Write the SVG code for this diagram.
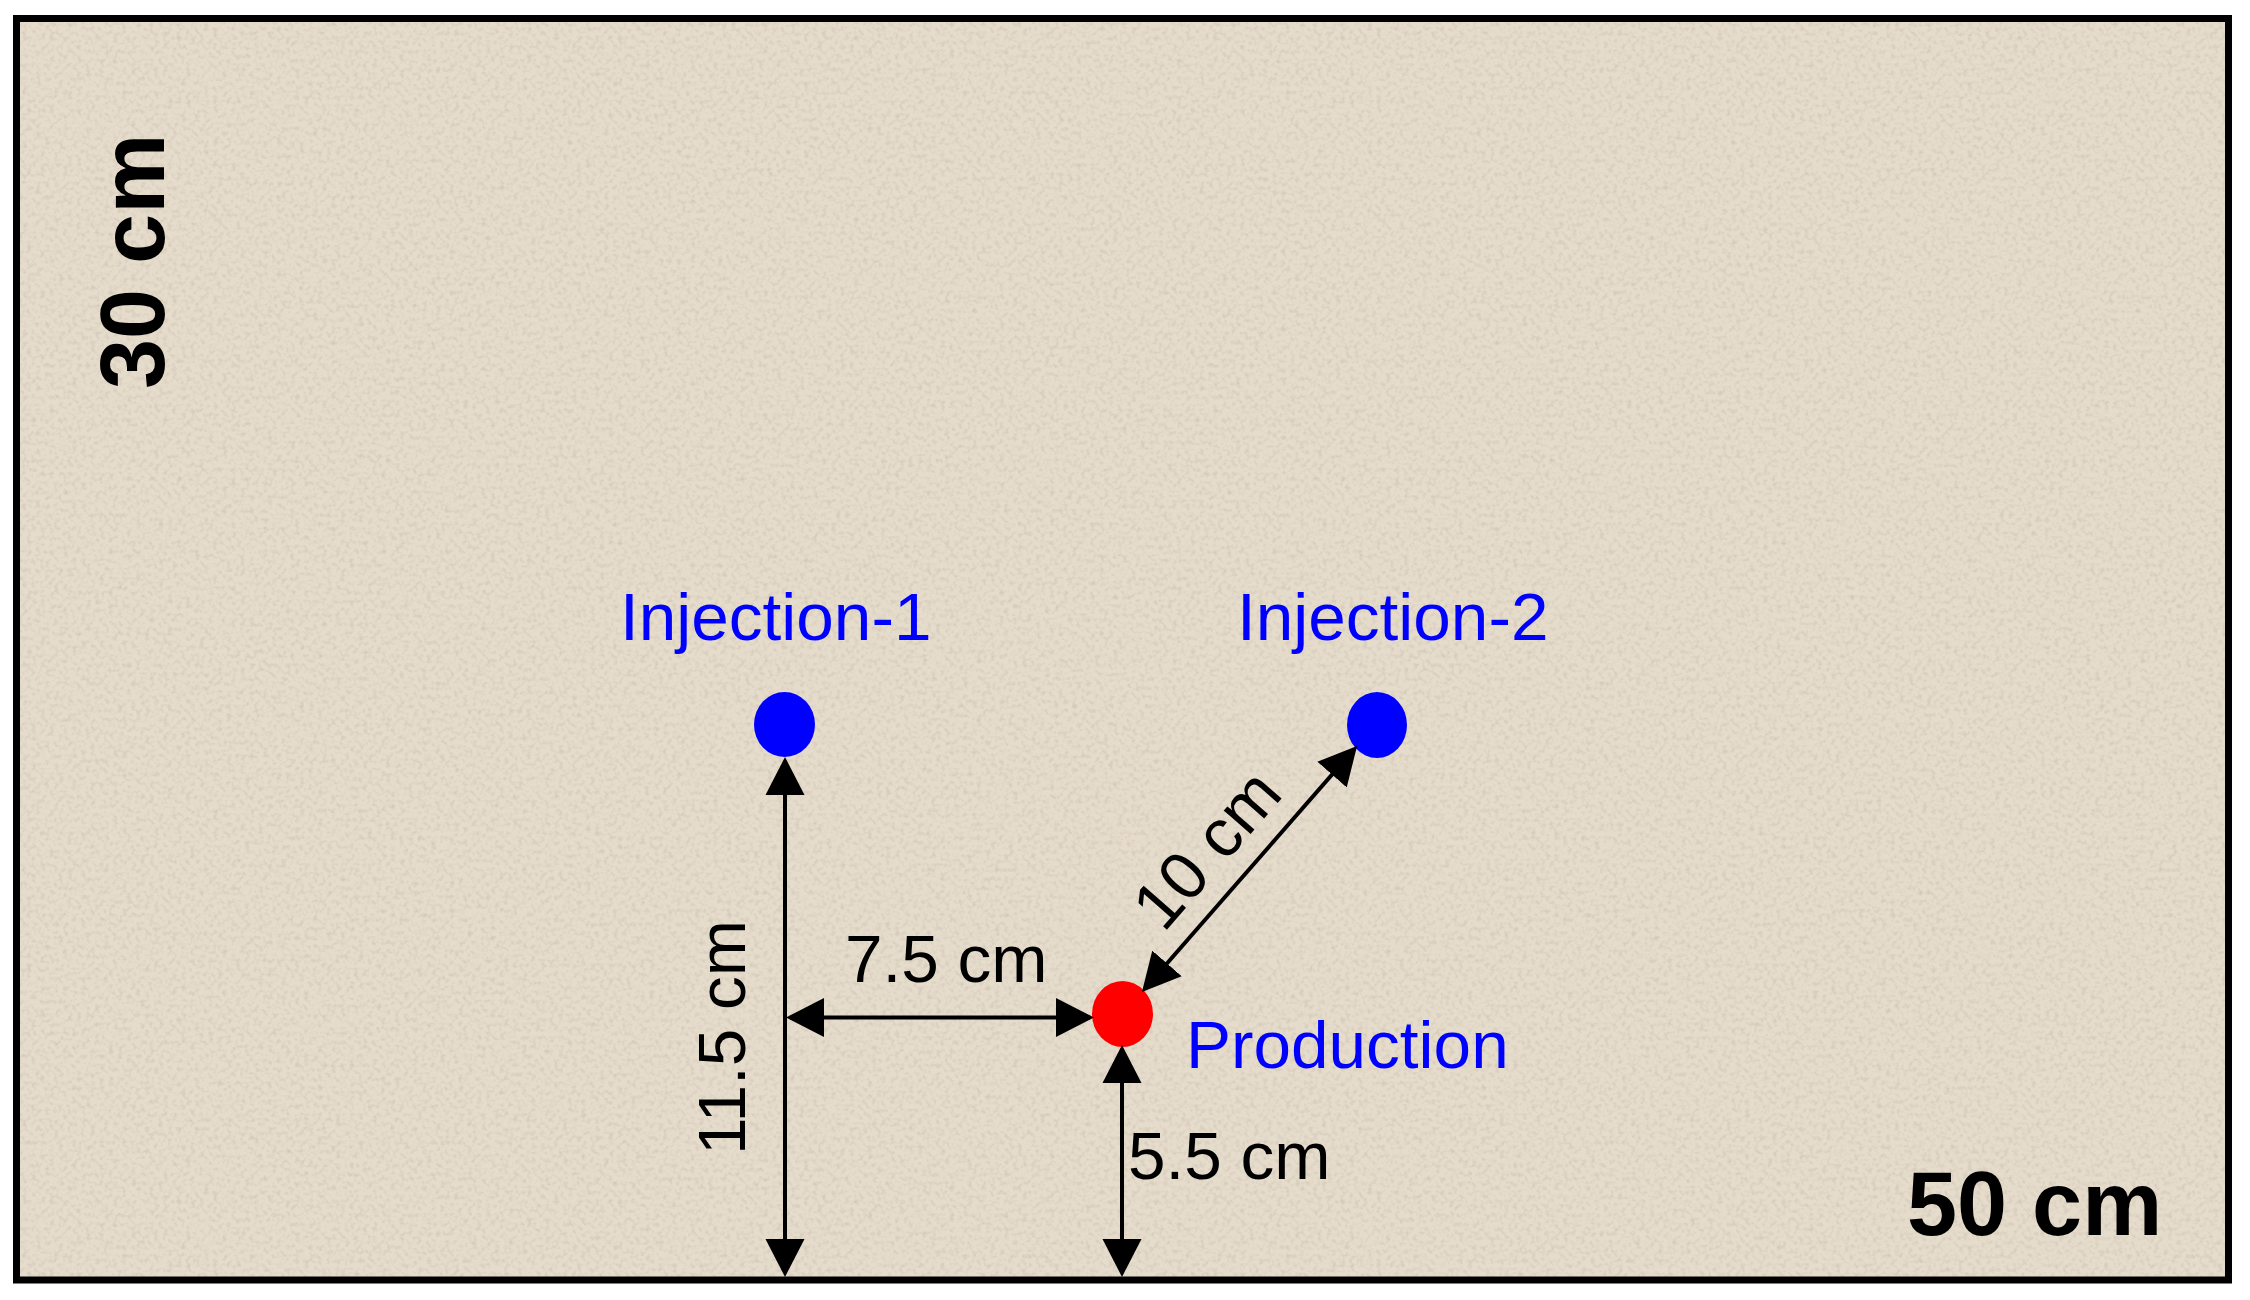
<svg xmlns="http://www.w3.org/2000/svg" width="2250" height="1300" viewBox="0 0 2250 1300">
  <style>
    .lbl { font-family: "Liberation Sans", Arial, sans-serif; font-size: 67.5px; }
    .blue { fill: #0000ff; }
    .dim { fill: #000000; }
    .big { font-family: "Liberation Sans", Arial, sans-serif; font-size: 90px; font-weight: bold; fill: #000000; }
    .well-inj { fill: #0000ff; }
    .well-prod { fill: #ff0000; }
    .conn { stroke: #000000; stroke-width: 4; fill: none; marker-start: url(#arrow); marker-end: url(#arrow); }
  </style>
  <defs>
    <marker id="arrow" markerUnits="userSpaceOnUse" viewBox="0 -20 38 40" markerWidth="38" markerHeight="40" refX="34" refY="0" orient="auto-start-reverse">
      <path d="M0,-19.5 L38,0 L0,19.5 Z" fill="#000000"/>
    </marker>
    <filter id="grain" x="0" y="0" width="100%" height="100%">
      <feTurbulence type="fractalNoise" baseFrequency="0.22" numOctaves="2" seed="7" result="n"/>
      <feColorMatrix in="n" type="matrix" values="0 0 0 0 0.50  0 0 0 0 0.43  0 0 0 0 0.35  1.6 0 0 0 -0.72"/>
    </filter>
  </defs>

  <rect x="0" y="0" width="2250" height="1300" fill="#ffffff"/>
  <g id="panel">
    <rect x="16.5" y="18.5" width="2212" height="1261.5" fill="#e6dccc"/>
    <rect x="20" y="22" width="2205" height="1255" filter="url(#grain)" opacity="0.6"/>
    <rect x="16.5" y="18.5" width="2212" height="1261.5" fill="none" stroke="#000000" stroke-width="7"/>
    <text class="big" transform="translate(164,389) rotate(-90)">30 cm</text>
    <text class="big" x="1907" y="1235">50 cm</text>
  </g>

  <g id="injection-1">
    <ellipse class="well-inj" cx="784.5" cy="724.5" rx="30.5" ry="32.5"/>
    <text class="lbl blue" x="620" y="640">Injection-1</text>
  </g>
  <g id="injection-2">
    <ellipse class="well-inj" cx="1377" cy="725" rx="30" ry="33"/>
    <text class="lbl blue" x="1237" y="640">Injection-2</text>
  </g>
  <g id="production">
    <ellipse class="well-prod" cx="1122.5" cy="1014" rx="30.5" ry="33"/>
    <text class="lbl blue" x="1186" y="1068">Production</text>
  </g>

  <g id="connectors">
    <g id="dim-11-5">
      <line class="conn" x1="785" y1="761" x2="785" y2="1273"/>
      <text class="lbl dim" transform="translate(745,1155) rotate(-90)">11.5 cm</text>
    </g>
    <g id="dim-7-5">
      <line class="conn" x1="790" y1="1017.5" x2="1090" y2="1017.5"/>
      <text class="lbl dim" x="845" y="982">7.5 cm</text>
    </g>
    <g id="dim-5-5">
      <line class="conn" x1="1122" y1="1049" x2="1122" y2="1273"/>
      <text class="lbl dim" x="1128" y="1179">5.5 cm</text>
    </g>
    <g id="dim-10">
      <line class="conn" x1="1354.4" y1="749" x2="1144.6" y2="989"/>
      <text class="lbl dim" transform="translate(1163.5,933.5) rotate(-48.8)">10 cm</text>
    </g>
  </g>
</svg>
